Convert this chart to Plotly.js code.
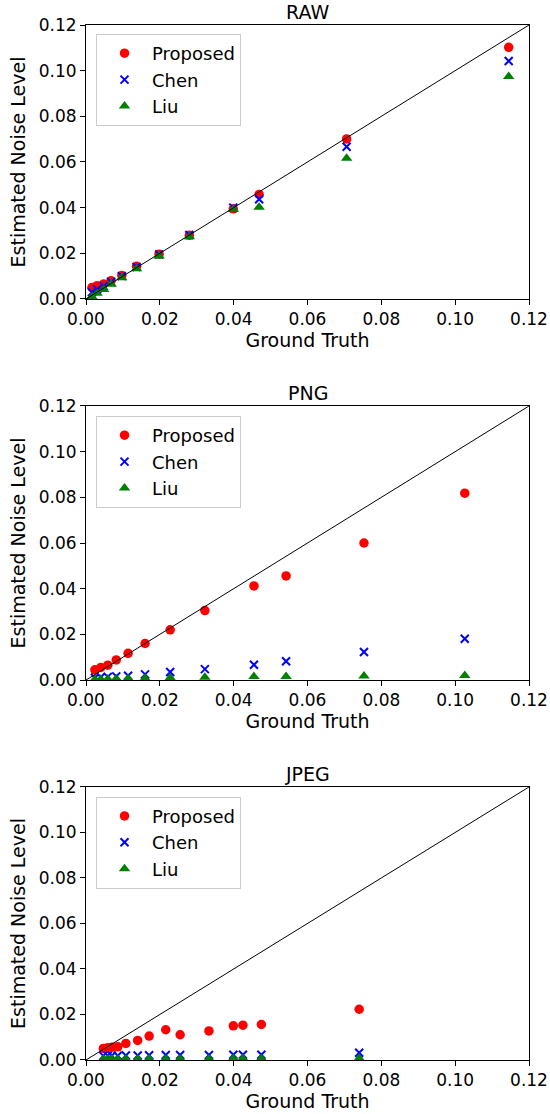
<!DOCTYPE html>
<html>
<head>
<meta charset="utf-8">
<script src="https://cdn.plot.ly/plotly-3.0.1.min.js"></script>
<style>html,body{margin:0;padding:0;background:#fff;}#chart{width:550px;height:1114px;}</style>
</head>
<body>
<div id="chart"></div>
<script>
// ---- Data ----
const panelTitles = ["RAW", "PNG", "JPEG"];
const seriesNames = ["Proposed", "Chen", "Liu"];
const diagonal = [0, 0.12];

const rawTruth    = [0.0016, 0.0030, 0.0048, 0.0068, 0.0097, 0.0137, 0.0198, 0.0280, 0.0399, 0.0469, 0.0706, 0.1145];
const rawProposed = [0.0050, 0.0058, 0.0066, 0.0080, 0.0103, 0.0143, 0.0196, 0.0279, 0.0395, 0.0458, 0.0701, 0.1102];
const rawChen     = [0.0030, 0.0042, 0.0056, 0.0074, 0.0100, 0.0140, 0.0195, 0.0280, 0.0400, 0.0437, 0.0667, 0.1042];
const rawLiu      = [0.0010, 0.0025, 0.0042, 0.0064, 0.0093, 0.0132, 0.0188, 0.0272, 0.0393, 0.0402, 0.0616, 0.0974];

const pngTruth    = [0.0024, 0.0040, 0.0059, 0.0082, 0.0114, 0.0160, 0.0228, 0.0322, 0.0455, 0.0542, 0.0753, 0.1026];
const pngProposed = [0.0045, 0.0055, 0.0065, 0.0088, 0.0117, 0.0160, 0.0220, 0.0304, 0.0412, 0.0456, 0.0600, 0.0818];
const pngChen     = [0.0010, 0.0012, 0.0014, 0.0016, 0.0019, 0.0025, 0.0035, 0.0048, 0.0067, 0.0082, 0.0123, 0.0181];
const pngLiu      = [0.0003, 0.0004, 0.0005, 0.0006, 0.0007, 0.0008, 0.0010, 0.0012, 0.0015, 0.0016, 0.0018, 0.0020];

const jpgTruth    = [0.0047, 0.0059, 0.0070, 0.0086, 0.0108, 0.0140, 0.0171, 0.0216, 0.0255, 0.0333, 0.0399, 0.0425, 0.0475, 0.0740];
const jpgProposed = [0.0051, 0.0054, 0.0056, 0.0058, 0.0073, 0.0086, 0.0105, 0.0133, 0.0111, 0.0128, 0.0150, 0.0153, 0.0156, 0.0223];
const jpgChen     = [0.0018, 0.0018, 0.0019, 0.0019, 0.0020, 0.0020, 0.0021, 0.0022, 0.0022, 0.0022, 0.0023, 0.0023, 0.0023, 0.0032];
const jpgLiu      = [0.0004, 0.0004, 0.0005, 0.0005, 0.0005, 0.0005, 0.0006, 0.0006, 0.0006, 0.0006, 0.0007, 0.0007, 0.0007, 0.0008];

const xTitle = "Ground Truth";
const yTitle = "Estimated Noise Level";

// ---- Build ----
const FONT = "DejaVu Sans, sans-serif";
const panels = [
  {truth: rawTruth, vals: [rawProposed, rawChen, rawLiu]},
  {truth: pngTruth, vals: [pngProposed, pngChen, pngLiu]},
  {truth: jpgTruth, vals: [jpgProposed, jpgChen, jpgLiu]}
];
const markerStyles = [
  {symbol: "circle", size: 9.5, color: "#ff0000"},
  {symbol: "x-thin", size: 8, color: "#0000ff", line: {width: 2, color: "#0000ff"}},
  {symbol: "triangle-up", size: 10, color: "#008000"}
];
const yDomains = [[0.7353, 1.0], [0.3671, 0.6319], [0.0, 0.2638]];
const legendTops = [0.9913, 0.6222, 0.2544];

const traces = [];
const layout = {
  width: 550, height: 1114,
  margin: {l: 86, r: 21, t: 25, b: 54},
  paper_bgcolor: "#fff", plot_bgcolor: "#fff",
  font: {family: FONT, color: "#000", size: 17},
  annotations: []
};

panels.forEach((p, i) => {
  const n = i === 0 ? "" : String(i + 1);
  const legName = i === 0 ? "legend" : "legend" + (i + 1);
  p.vals.forEach((v, k) => {
    const ms = markerStyles[k];
    const marker = {symbol: ms.symbol, size: ms.size, color: ms.color};
    if (ms.line) marker.line = ms.line; else marker.line = {width: 0};
    traces.push({
      type: "scatter", mode: "markers", name: seriesNames[k],
      x: p.truth, y: v, xaxis: "x" + n, yaxis: "y" + n,
      marker: marker, legend: legName, cliponaxis: true
    });
  });
  traces.push({
    type: "scatter", mode: "lines", x: diagonal, y: diagonal,
    xaxis: "x" + n, yaxis: "y" + n, showlegend: false,
    line: {color: "#000", width: 1}, hoverinfo: "skip"
  });
  const axCommon = {
    range: [0, 0.12], dtick: 0.02, tick0: 0, tickformat: ".2f",
    showgrid: false, zeroline: false, showline: true, mirror: true,
    linecolor: "#000", linewidth: 1, ticks: "outside", ticklen: 5,
    tickwidth: 1, tickcolor: "#000", tickfont: {family: FONT, size: 17, color: "#000"}
  };
  layout["xaxis" + n] = Object.assign({}, axCommon, {
    anchor: "y" + n, domain: [0, 1],
    title: {text: xTitle, font: {family: FONT, size: 19, color: "#000"}, standoff: 3}
  });
  layout["yaxis" + n] = Object.assign({}, axCommon, {
    anchor: "x" + n, domain: yDomains[i],
    title: {text: yTitle, font: {family: FONT, size: 19, color: "#000"}, standoff: 8}
  });
  layout[legName] = {
    x: 0.0226, y: legendTops[i], xanchor: "left", yanchor: "top",
    bgcolor: "rgba(255,255,255,0.8)", bordercolor: "#cccccc", borderwidth: 1,
    font: {family: FONT, size: 18, color: "#000"}, itemwidth: 45
  };
  layout.annotations.push({
    text: panelTitles[i], xref: "paper", yref: "paper", x: 0.5, y: yDomains[i][1],
    xanchor: "center", yanchor: "middle", yshift: 13, showarrow: false,
    font: {family: FONT, size: 19, color: "#000"}, borderpad: 0
  });
});

Plotly.newPlot("chart", traces, layout, {displayModeBar: false, staticPlot: true});
</script>
</body>
</html>
